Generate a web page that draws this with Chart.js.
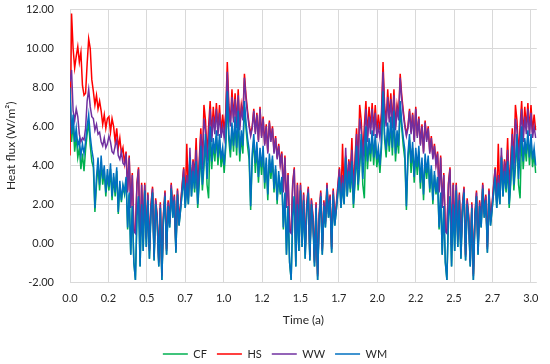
<!DOCTYPE html>
<html>
<head>
<meta charset="utf-8">
<script src="https://cdn.jsdelivr.net/npm/chart.js@4.4.1/dist/chart.umd.min.js"></script>
<style>
html,body{margin:0;padding:0;background:#fff;}
#wrap{width:550px;height:364px;}
</style>
</head>
<body>
<div id="wrap"><canvas id="c" width="550" height="364"></canvas></div>
<script>
// ---------- data ----------
const sampleDays = 3.65;          // one sample every 3.65 days (100 per 365-day year)
const tickDays = 90;              // category label interval (days)
const xTickLabels = ["0.0","0.2","0.5","0.7","1.0","1.2","1.5","1.7","2.0","2.2","2.5","2.7","3.0"];
const yMin = -2, yMax = 12, yStep = 2;
const seriesNames = ["CF","HS","WW","WM"];

// first-year start-up transient (first 35 samples of year 1)
const cfStart = [7.7,5.2,6.2,4.7,5.5,4.4,4.9,3.8,4.6,3.7,4.8,5.6,6.2,5.0,4.2,3.9,1.6,3.0,4.0,2.7,4.1,3.0,3.7,2.4,3.5,2.7,3.8,2.2,3.4,2.4,3.7,1.5,3.0,2.1,2.9];
const hsStart = [4.5,11.8,10.0,9.0,9.6,10.1,9.3,9.8,8.1,7.6,7.7,9.2,10.5,10.0,8.4,7.8,7.1,7.6,6.9,7.3,6.8,6.1,6.6,5.9,6.4,6.5,5.7,6.4,6.0,5.2,5.9,4.9,5.4,4.6,4.9];
const wwStart = [8.3,8.9,6.8,6.3,6.9,6.5,5.6,5.2,5.4,5.3,5.9,7.3,7.9,7.0,6.5,6.4,5.8,6.1,5.6,5.7,5.2,5.0,5.4,4.9,5.1,5.5,5.2,4.7,4.6,5.0,5.3,4.5,4.3,4.7,4.1];
const wmStart = [8.0,5.6,6.6,5.2,5.9,5.0,5.3,4.5,5.1,4.6,5.2,6.0,6.6,5.5,4.8,4.3,1.8,3.4,4.4,3.0,4.5,3.3,4.0,2.6,3.8,2.9,4.1,2.4,3.6,2.6,3.9,1.6,3.2,2.2,3.0];

// repeating annual cycle (100 samples per year)
const cfYear = [
 4.9,7.5,5.3,4.4,5.9,4.7,6.2,4.5,6.5,4.2,
 5.5,4.6,7.0,5.9,5.0,4.3,1.7,4.3,5.3,3.6,
 4.9,3.1,4.6,3.5,4.7,2.8,4.1,2.2,4.3,3.3,
 4.3,2.6,3.8,2.0,3.5,2.5,3.3,0.7,2.5,-0.6,
 1.9,-1.0,-1.9,1.4,2.4,-1.2,2.0,-0.4,2.7,-0.2,
 2.2,-0.8,1.6,2.6,-0.9,2.0,1.1,-1.2,1.8,-1.9,
 1.2,2.4,-0.6,1.9,0.8,2.8,1.3,2.2,-0.5,2.5,
 0.9,1.7,2.6,3.4,1.8,3.1,2.0,4.4,2.4,3.7,
 2.6,3.9,1.8,3.1,4.7,2.7,3.9,5.3,3.0,2.3,
 5.7,3.8,5.1,4.2,5.5,4.0,5.3,3.9,4.6,3.6];
const hsYear = [
 6.7,9.3,7.1,6.2,7.9,6.4,7.7,6.1,7.9,6.0,
 7.1,6.5,8.7,7.6,6.8,6.1,5.6,6.0,6.9,5.7,
 6.7,5.3,7.0,5.5,6.5,5.1,6.1,4.7,6.3,5.3,
 6.0,4.7,5.5,4.4,5.1,4.1,4.7,2.7,4.5,1.9,
 3.6,0.7,0.6,3.1,3.9,-0.1,3.1,0.7,3.1,0.3,
 2.6,-0.3,2.0,2.9,-0.6,2.3,1.4,-0.9,2.1,-1.6,
 1.5,2.7,-0.3,2.2,1.1,3.1,1.6,2.5,-0.2,2.8,
 1.2,2.0,3.0,3.9,2.2,5.1,2.4,4.5,3.0,4.3,
 3.5,5.4,2.8,4.3,5.9,4.1,7.1,6.3,4.5,6.0,
 7.3,5.5,7.0,5.9,7.2,5.8,7.1,5.7,6.6,5.8];
const wwYear = [
 6.4,8.8,6.8,6.0,7.5,6.2,7.4,5.9,7.6,5.8,
 6.9,6.3,8.5,7.4,6.6,6.0,5.5,5.9,6.8,5.6,
 6.6,5.2,6.9,5.4,6.4,5.0,6.0,4.6,6.2,5.2,
 5.9,4.6,5.4,4.3,5.0,4.0,4.6,2.6,4.4,1.8,
 3.5,0.6,0.5,3.0,3.8,-0.2,3.0,0.6,3.0,0.2,
 2.5,-0.4,1.9,2.8,-0.7,2.2,1.3,-1.0,2.0,-1.7,
 1.4,2.6,-0.4,2.1,1.0,3.0,1.5,2.4,-0.3,2.7,
 1.1,1.9,2.9,3.8,2.1,3.5,2.3,4.9,2.8,4.2,
 3.3,4.8,2.6,4.0,5.6,3.8,6.4,5.8,4.2,5.4,
 6.9,5.2,6.5,5.6,6.9,5.5,6.7,5.4,6.0,5.4];
const wmYear = [
 5.2,7.8,5.6,4.8,6.2,5.0,6.5,4.9,6.8,4.6,
 5.8,5.0,7.3,6.2,5.4,4.8,1.9,4.6,5.6,4.1,
 5.2,3.4,4.9,3.9,5.0,3.1,4.4,2.5,4.6,3.6,
 4.5,2.8,4.0,2.2,3.7,2.6,3.4,0.8,2.6,-0.6,
 1.9,-1.0,-1.9,1.4,2.4,-1.2,2.0,-0.4,2.7,-0.2,
 2.2,-0.8,1.6,2.6,-0.9,2.0,1.1,-1.2,1.8,-1.9,
 1.2,2.4,-0.6,1.9,0.8,2.8,1.3,2.2,-0.5,2.5,
 0.9,1.7,2.6,3.4,1.8,3.1,2.0,4.4,2.4,3.7,
 2.8,4.2,2.0,3.3,5.0,3.0,4.2,5.6,3.3,4.6,
 6.0,4.2,5.4,4.6,5.8,4.4,5.6,4.3,4.9,4.0];

// ---------- build series (year 1 with start-up, then years 2 and 3) ----------
function buildSeries(start, year) {
  return start.concat(year.slice(start.length), year, year);
}
function toPoints(arr) {
  return arr.map((v, i) => ({x: i * sampleDays, y: v}));
}
const seriesValues = {
  CF: buildSeries(cfStart, cfYear),
  HS: buildSeries(hsStart, hsYear),
  WW: buildSeries(wwStart, wwYear),
  WM: buildSeries(wmStart, wmYear)
};

// ---------- styles ----------
const seriesStyle = {
  CF: {color: '#00B050', order: 4},
  HS: {color: '#FF0000', order: 3},
  WW: {color: '#7030A0', order: 2},
  WM: {color: '#0070C0', order: 1}
};
const textColor = '#262626';
const gridColor = '#d9d9d9';
const tickFont = {family: 'Lato', size: 11};
const titleFont = {family: 'Lato', size: 12};

const datasets = seriesNames.map(name => ({
  label: name,
  data: toPoints(seriesValues[name]),
  borderColor: seriesStyle[name].color,
  backgroundColor: seriesStyle[name].color,
  borderWidth: 1.5,
  order: seriesStyle[name].order,
  pointRadius: 0,
  tension: 0,
  fill: false
}));

const legendPlace = {
  id: 'legendPlace',
  afterLayout(chart) {
    const l = chart.legend;
    if (l) {
      const h = l.height;
      l.left = 0; l.right = chart.width; l.width = chart.width;
      l.top = 338.5; l.bottom = l.top + h;
    }
  }
};

new Chart(document.getElementById('c').getContext('2d'), {
  type: 'line',
  data: {datasets},
  options: {
    responsive: false,
    animation: false,
    devicePixelRatio: 1,
    layout: {padding: {left: 0, right: 13.2, top: 9.5, bottom: -5.5}},
    plugins: {
      legend: {
        position: 'bottom',
        labels: {
          usePointStyle: true,
          pointStyle: 'line',
          pointStyleWidth: 25,
          padding: 10,
          font: tickFont,
          color: textColor,
          sort: (a, b) => a.datasetIndex - b.datasetIndex
        }
      },
      tooltip: {enabled: false}
    },
    scales: {
      x: {
        type: 'linear',
        min: 0,
        max: 1094,
        afterFit: s => { s.height = 56.5; },
        afterBuildTicks: s => { s.ticks = xTickLabels.map((_, i) => ({value: i * tickDays})); },
        ticks: {
          autoSkip: false,
          maxRotation: 0,
          padding: 3,
          font: tickFont,
          color: textColor,
          callback: (v) => xTickLabels[Math.round(v / tickDays)]
        },
        grid: {color: gridColor, drawTicks: true, tickLength: 7, tickColor: 'rgba(0,0,0,0)', lineWidth: 1},
        border: {display: false},
        title: {display: true, text: 'Time (a)', font: titleFont, color: textColor, padding: {top: 0, bottom: 11}}
      },
      y: {
        min: yMin,
        max: yMax,
        afterFit: s => { s.width = 70; },
        ticks: {
          stepSize: yStep,
          padding: 3,
          font: tickFont,
          color: textColor,
          callback: v => Number(v).toFixed(2)
        },
        grid: {color: gridColor, drawTicks: true, tickLength: 13, tickColor: 'rgba(0,0,0,0)', lineWidth: 1},
        border: {display: false},
        title: {display: true, text: 'Heat flux (W/m\u00B2)', font: titleFont, color: textColor, padding: {top: 4, bottom: 0}}
      }
    }
  },
  plugins: [legendPlace]
});
</script>
</body>
</html>
